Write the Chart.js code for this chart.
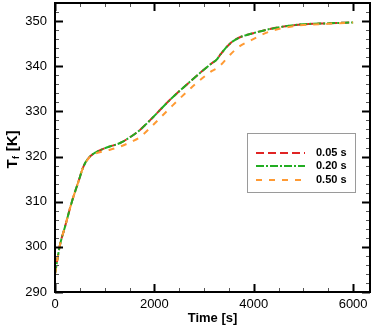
<!DOCTYPE html>
<html>
<head>
<meta charset="utf-8">
<script src="https://cdn.jsdelivr.net/npm/chart.js@4/dist/chart.umd.min.js"></script>
<style>
  html,body{margin:0;padding:0;background:#fff;}
  #wrap{width:376px;height:333px;position:relative;}
</style>
</head>
<body>
<div id="wrap"><canvas id="chart" width="376" height="333"></canvas></div>
<script>
/* Tf vs time, three time steps */
const times  =[0,100,200,340,470,570,670,800,1040,1310,1540,1710,1910,2310,2750,3150,3250,3330,3520,3700,3950,4350,4900,5500,6000];
const tf005  =[294,300.4,304.4,310,314.4,317.7,319.6,320.8,322.0,323.0,324.5,325.9,328.0,332.5,336.9,340.6,341.4,342.6,345.0,346.3,347.2,348.3,349.2,349.5,349.7];
const tf020  =[294,300.4,304.4,310,314.4,317.7,319.6,320.8,322.0,323.0,324.5,325.9,328.0,332.5,336.9,340.6,341.4,342.6,345.0,346.3,347.2,348.3,349.2,349.5,349.7];
const tf050  =[294,300.4,304.4,310,314.4,317.7,319.5,320.6,321.3,322.2,323.3,324.3,326.3,330.7,335.3,338.9,339.5,340.2,342.5,344.3,345.8,347.8,349.0,349.4,349.7];
const labels =['0.05 s','0.20 s','0.50 s'];
const xTicks =[0,2000,4000,6000];
const yTicks =[290,300,310,320,330,340,350];

const FONT='"Liberation Sans", Arial, sans-serif';
const pts=arr=>arr.map((v,i)=>({x:times[i],y:v}));

/* frame, inward ticks, y title with subscript, legend */
const decor={id:'decor',afterDraw(c){
  const g=c.ctx,a=c.chartArea,xs=c.scales.x,ys=c.scales.y;
  g.save();
  // minor + major ticks on all four sides
  for(let v=0;v<=6300;v+=500){
    const px=Math.round(xs.getPixelForValue(v))+0.5,maj=v%2000===0,L=maj?8:4;
    g.lineWidth=maj?2:1;g.strokeStyle=maj?'#000':'#555';
    g.beginPath();g.moveTo(px,a.bottom);g.lineTo(px,a.bottom-L);g.moveTo(px,a.top);g.lineTo(px,a.top+L);g.stroke();
  }
  for(let v=290;v<=354;v+=2){
    const py=Math.round(ys.getPixelForValue(v))+0.5,maj=v%10===0,L=maj?8:4;
    g.lineWidth=maj?2:1;g.strokeStyle=maj?'#000':'#555';
    g.beginPath();g.moveTo(a.left,py);g.lineTo(a.left+L,py);g.moveTo(a.right,py);g.lineTo(a.right-L,py);g.stroke();
  }
  g.lineWidth=2;g.strokeStyle='#000';
  g.strokeRect(a.left,a.top,a.right-a.left,a.bottom-a.top);

  // y title  T_f [K]
  g.translate(13,150);g.rotate(-Math.PI/2);
  g.fillStyle='#000';g.textBaseline='middle';
  const big='bold 15px '+FONT,small='bold 9px '+FONT;
  g.font=big;const wT=g.measureText('T').width,wK=g.measureText(' [K]').width;
  g.font=small;const wf=g.measureText('f').width;
  let x0=-(wT+wf+wK)/2;
  g.font=big;g.fillText('T',x0,0);
  g.font=small;g.fillText('f',x0+wT+0.5,4);
  g.font=big;g.fillText(' [K]',x0+wT+wf+1,0);
  g.setTransform(1,0,0,1,0,0);

  // legend
  g.fillStyle='#fff';g.fillRect(247,133,109,60);
  g.lineWidth=1;g.strokeStyle='#9a9a9a';g.strokeRect(247.5,133.5,108,59);
  const rows=[153,166,180];
  c.data.datasets.forEach((d,i)=>{
    g.strokeStyle=d.borderColor;g.lineWidth=2;g.setLineDash(d.borderDash);
    g.beginPath();g.moveTo(256,rows[i]);g.lineTo(305,rows[i]);g.stroke();
    g.setLineDash([]);
    g.fillStyle='#000';g.font='bold 11px '+FONT;g.textBaseline='middle';g.textAlign='left';
    g.fillText(d.label,316,rows[i]);
  });
  g.restore();
}};

new Chart(document.getElementById('chart'),{
  type:'line',
  data:{datasets:[
    {label:labels[0],data:pts(tf005),borderColor:'#e02424',borderDash:[8,4],order:3},
    {label:labels[1],data:pts(tf020),borderColor:'#22ad22',borderDash:[8,2,2,2],order:2},
    {label:labels[2],data:pts(tf050),borderColor:'#ff9a33',borderDash:[6,7],order:1}
  ]},
  options:{
    responsive:false,animation:false,
    layout:{padding:{top:3,right:6,left:0,bottom:0}},
    elements:{point:{radius:0},line:{borderWidth:2,cubicInterpolationMode:'monotone',fill:false}},
    plugins:{legend:{display:false},tooltip:{enabled:false}},
    scales:{
      x:{type:'linear',min:0,max:6340,
        afterFit:s=>{s.height=41;s.paddingLeft=0;s.paddingRight=0;},
        afterBuildTicks:s=>{s.ticks=xTicks.map(v=>({value:v}));},
        grid:{display:false,drawTicks:false},border:{display:false},
        ticks:{color:'#000',font:{family:FONT,size:13},padding:5,maxRotation:0,callback:v=>String(v)},
        title:{display:true,text:'Time [s]',color:'#000',font:{family:FONT,size:13,weight:'bold'},padding:{top:2,bottom:7}}},
      y:{type:'linear',min:290,max:354,
        afterFit:s=>{s.width=55;s.paddingTop=0;s.paddingBottom=0;},
        afterBuildTicks:s=>{s.ticks=yTicks.map(v=>({value:v}));},
        grid:{display:false,drawTicks:false},border:{display:false},
        ticks:{color:'#000',font:{family:FONT,size:13},padding:8,callback:v=>String(v)}}
    }
  },
  plugins:[decor]
});
</script>
</body>
</html>
